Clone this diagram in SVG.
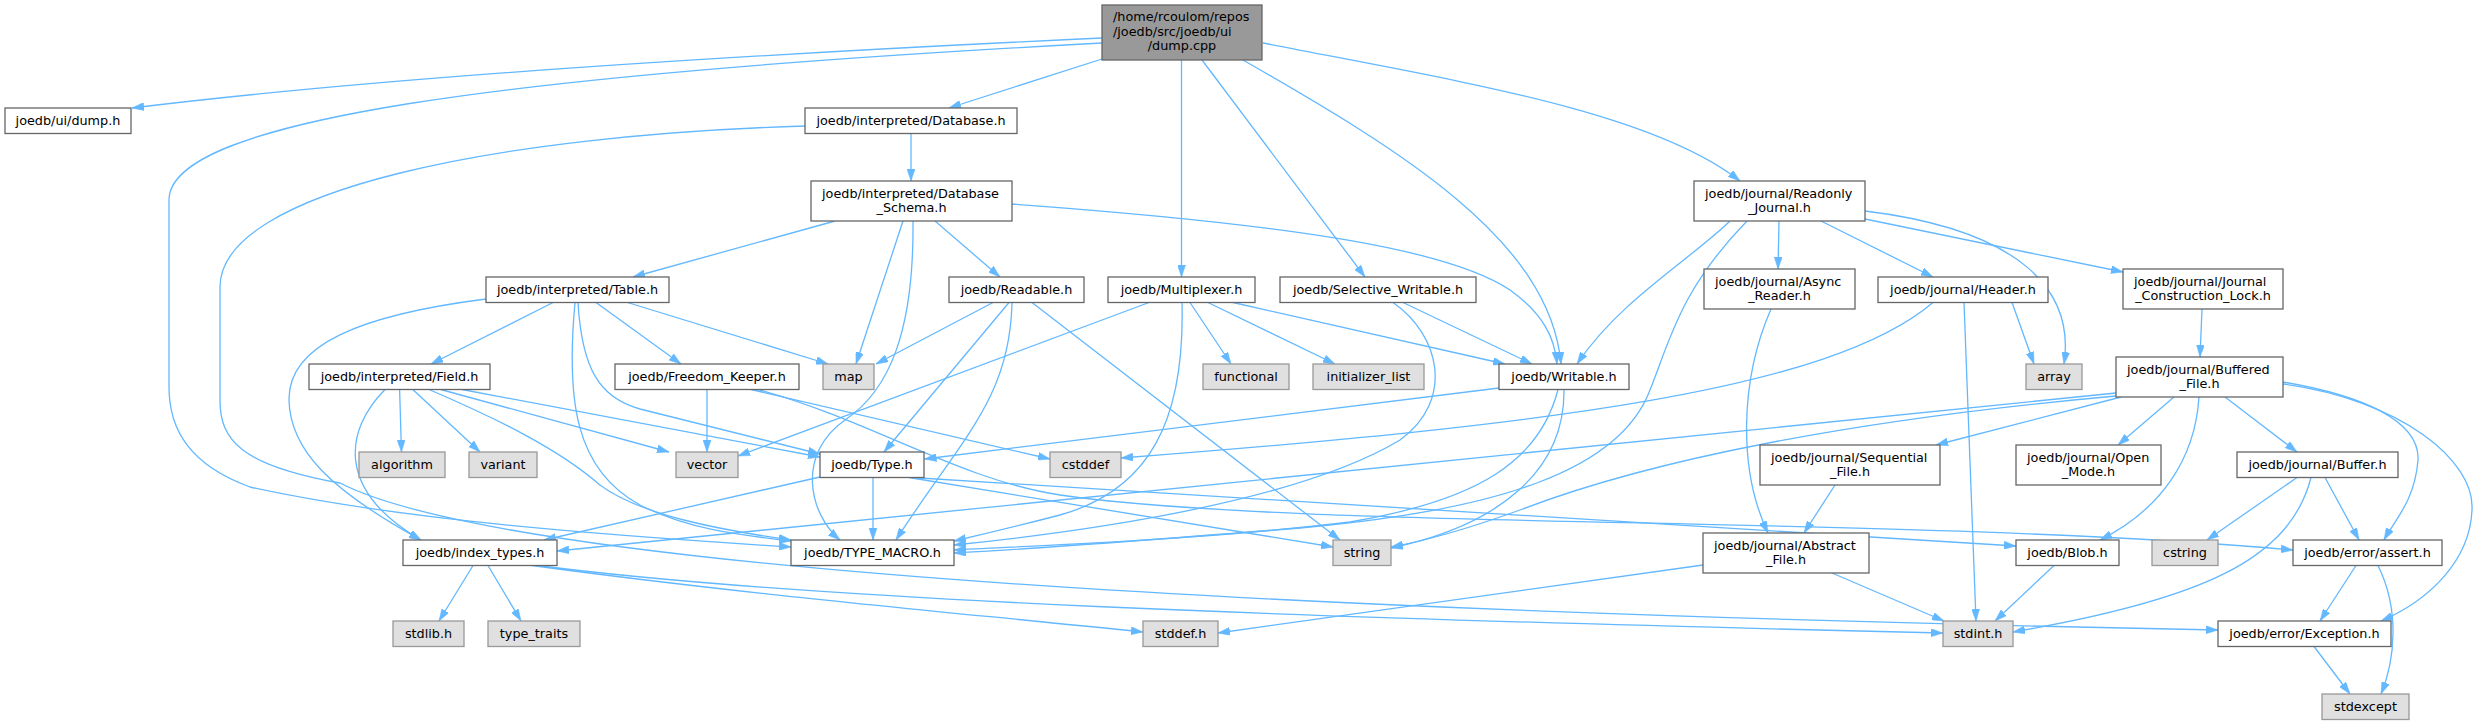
<svg xmlns="http://www.w3.org/2000/svg" width="2478" height="725" viewBox="0 0 2478 725">
<style>
.n{fill:#ffffff;stroke:#666666;stroke-width:1.3}
.x{fill:#e0e0e0;stroke:#999999;stroke-width:1.3}
.r{fill:#999999;stroke:#666666;stroke-width:1.3}
text{font-family:"DejaVu Sans","Liberation Sans",sans-serif;font-size:12.8px;fill:#000000}
.m{text-anchor:middle}
.s{text-anchor:start}
.e{fill:none;stroke:#63b8ff;stroke-width:1.3;marker-end:url(#a)}
</style>
<defs>
<marker id="a" viewBox="0 0 10 10" refX="10" refY="5" markerUnits="userSpaceOnUse" markerWidth="12" markerHeight="8" orient="auto" preserveAspectRatio="none">
<path d="M0,0 L10,5 L0,10 z" fill="#63b8ff" stroke="#63b8ff" stroke-width="0.5"/>
</marker>
</defs>
<rect width="2478" height="725" fill="#ffffff"/>
<g id="edges">
<path class="e" d="M1102,38 C800,52 400,75 132,108"/>
<path class="e" d="M1102,59 L949,108"/>
<path class="e" d="M1102,43 C500,75 169,120 169,200 L169,387 C169,430 190,465 250,487 C400,520 600,535 791,547"/>
<path class="e" d="M1181.5,60 L1181.5,277"/>
<path class="e" d="M1202,60 L1365,277"/>
<path class="e" d="M1243,60 C1400,150 1550,240 1561,364"/>
<path class="e" d="M1263,43 C1450,80 1650,110 1740,181"/>
<path class="e" d="M911,133.5 L911,181"/>
<path class="e" d="M805,126 C500,135 220,190 220,287 L220,400 C220,440 240,465 340,483 C500,565 1200,610 2218,630"/>
<path class="e" d="M835,221 L633,277"/>
<path class="e" d="M903,221 L856,364"/>
<path class="e" d="M913,221 C914,330 890,390 845,420 C795,455 810,515 840,540"/>
<path class="e" d="M935,221 L1000,277"/>
<path class="e" d="M1012,204 C1300,225 1450,250 1510,290 C1545,315 1555,340 1557,364"/>
<path class="e" d="M486,299 C360,315 288,345 289,400 C290,450 330,490 421,540"/>
<path class="e" d="M553,302.5 L431,364"/>
<path class="e" d="M575,302.5 C566,400 575,470 640,505 C690,530 740,535 791,541"/>
<path class="e" d="M578,302.5 C582,370 600,398 640,409 L820,454"/>
<path class="e" d="M596,302.5 L681,364"/>
<path class="e" d="M627.5,302.5 L828,364"/>
<path class="e" d="M385,389.5 C345,430 335,490 421,540"/>
<path class="e" d="M399.6,389.5 L401.5,452"/>
<path class="e" d="M412.8,389.5 L480,452"/>
<path class="e" d="M429,389.5 C500,420 560,450 600,485 C640,515 720,530 791,540"/>
<path class="e" d="M440.7,389.5 L669,452"/>
<path class="e" d="M462,389.5 L820,457"/>
<path class="e" d="M707,389.5 L707,452"/>
<path class="e" d="M751,389.5 L1050,459"/>
<path class="e" d="M758,389.5 C870,420 960,480 1060,495 C1300,530 1900,515 2293,550"/>
<path class="e" d="M993,302.5 L876,364"/>
<path class="e" d="M1009,302.5 L884,452"/>
<path class="e" d="M1012,302.5 C1010,400 960,440 896,540"/>
<path class="e" d="M1032,302.5 L1340,540"/>
<path class="e" d="M1149,302.5 L738,456"/>
<path class="e" d="M1182,302.5 C1185,420 1150,490 1060,515 C1010,528 980,535 954,541"/>
<path class="e" d="M1190,302.5 L1231,364"/>
<path class="e" d="M1208,302.5 L1335,364"/>
<path class="e" d="M1233,302.5 L1505,364"/>
<path class="e" d="M1393,302.5 C1440,335 1455,400 1400,440 C1300,500 1100,530 954,545"/>
<path class="e" d="M1403,302.5 L1532,364"/>
<path class="e" d="M1499,388 L924.5,459"/>
<path class="e" d="M1558,389.5 C1540,460 1480,500 1350,522 C1200,540 1050,545 954,550"/>
<path class="e" d="M1564,389.5 C1565,470 1500,525 1391,548"/>
<path class="e" d="M1730,221 C1690,260 1620,300 1577,364"/>
<path class="e" d="M1747,221 C1680,290 1670,340 1650,390 C1620,470 1500,510 1300,528 C1150,540 1050,548 954,553"/>
<path class="e" d="M1779,221 L1778,269"/>
<path class="e" d="M1821,221 L1933,277"/>
<path class="e" d="M1865,211 C2020,230 2075,290 2064,364"/>
<path class="e" d="M1865,219 L2123,272"/>
<path class="e" d="M1771,309 C1740,380 1738,470 1768,533"/>
<path class="e" d="M1933,302.5 C1830,390 1550,425 1121,458"/>
<path class="e" d="M1964,302.5 L1976,621"/>
<path class="e" d="M2012,302.5 L2034,364"/>
<path class="e" d="M2202,309 L2200,357"/>
<path class="e" d="M2116,393 L557,551"/>
<path class="e" d="M2116,396 C1850,420 1650,460 1520,510 C1470,528 1430,540 1391,547"/>
<path class="e" d="M2121,397 L1936,445"/>
<path class="e" d="M2174,397 L2118,445"/>
<path class="e" d="M2199,397 C2195,460 2160,510 2100,540"/>
<path class="e" d="M2225,397 L2297,452"/>
<path class="e" d="M2283,382 C2360,395 2420,420 2418,460 C2415,500 2395,520 2384,540"/>
<path class="e" d="M2283,384 C2400,400 2475,460 2472,510 C2470,560 2430,600 2381,621"/>
<path class="e" d="M820,477 L544,540"/>
<path class="e" d="M873,477.5 L873,540"/>
<path class="e" d="M909,477.5 L1333,547"/>
<path class="e" d="M912,477.5 L2016,546"/>
<path class="e" d="M1835,485 L1804,533"/>
<path class="e" d="M2297,477.5 L2207,540"/>
<path class="e" d="M2311,477.5 C2290,560 2200,600 2013,632"/>
<path class="e" d="M2325,477.5 L2359,540"/>
<path class="e" d="M473,565.5 L439,621"/>
<path class="e" d="M488,565.5 L521,621"/>
<path class="e" d="M532,565.5 C750,595 950,612 1143,632"/>
<path class="e" d="M534,565 C800,600 1300,618 1943,633"/>
<path class="e" d="M1703,565 L1218,633"/>
<path class="e" d="M1832,573 L1944,621"/>
<path class="e" d="M2054,565.5 L1995,621"/>
<path class="e" d="M2356,565.5 L2320,621"/>
<path class="e" d="M2378,565.5 C2400,610 2395,660 2381,694"/>
<path class="e" d="M2314,646.5 L2350,694"/>
</g>
<g id="n_root"><rect class="r" x="1102" y="5" width="160" height="55"/><text class="s" x="1113" y="21">/home/rcoulom/repos</text><text class="s" x="1113" y="35.5">/joedb/src/joedb/ui</text><text class="m" x="1182" y="50">/dump.cpp</text></g>
<g id="n_dump_h"><rect class="n" x="5" y="108" width="126" height="25.5"/><text class="m" x="68" y="124.5">joedb/ui/dump.h</text></g>
<g id="n_database"><rect class="n" x="805" y="108" width="212" height="25.5"/><text class="m" x="911" y="124.5">joedb/interpreted/Database.h</text></g>
<g id="n_schema"><rect class="n" x="811" y="181" width="201" height="40"/><text class="s" x="822" y="197.5">joedb/interpreted/Database</text><text class="m" x="911.5" y="211.5">_Schema.h</text></g>
<g id="n_table"><rect class="n" x="486" y="277" width="183" height="25.5"/><text class="m" x="577.5" y="293.5">joedb/interpreted/Table.h</text></g>
<g id="n_readable"><rect class="n" x="949" y="277" width="135" height="25.5"/><text class="m" x="1016.5" y="293.5">joedb/Readable.h</text></g>
<g id="n_multiplexer"><rect class="n" x="1108" y="277" width="147" height="25.5"/><text class="m" x="1181.5" y="293.5">joedb/Multiplexer.h</text></g>
<g id="n_selective"><rect class="n" x="1280" y="277" width="196" height="25.5"/><text class="m" x="1378" y="293.5">joedb/Selective_Writable.h</text></g>
<g id="n_readonly"><rect class="n" x="1694" y="181" width="171" height="40"/><text class="s" x="1705" y="197.5">joedb/journal/Readonly</text><text class="m" x="1779.5" y="211.5">_Journal.h</text></g>
<g id="n_async"><rect class="n" x="1704" y="269" width="151" height="40"/><text class="s" x="1715" y="285.5">joedb/journal/Async</text><text class="m" x="1779.5" y="299.5">_Reader.h</text></g>
<g id="n_header"><rect class="n" x="1878" y="277" width="170" height="25.5"/><text class="m" x="1963" y="293.5">joedb/journal/Header.h</text></g>
<g id="n_jcl"><rect class="n" x="2123" y="269" width="160" height="40"/><text class="s" x="2134" y="285.5">joedb/journal/Journal</text><text class="m" x="2203" y="299.5">_Construction_Lock.h</text></g>
<g id="n_field"><rect class="n" x="309" y="364" width="181" height="25.5"/><text class="m" x="399.5" y="380.5">joedb/interpreted/Field.h</text></g>
<g id="n_freedom"><rect class="n" x="615" y="364" width="184" height="25.5"/><text class="m" x="707" y="380.5">joedb/Freedom_Keeper.h</text></g>
<g id="n_map"><rect class="x" x="823" y="364" width="51" height="25.5"/><text class="m" x="848.5" y="380.5">map</text></g>
<g id="n_functional"><rect class="x" x="1203" y="364" width="86" height="25.5"/><text class="m" x="1246" y="380.5">functional</text></g>
<g id="n_initlist"><rect class="x" x="1313" y="364" width="111" height="25.5"/><text class="m" x="1368.5" y="380.5">initializer_list</text></g>
<g id="n_writable"><rect class="n" x="1499" y="364" width="130" height="25.5"/><text class="m" x="1564" y="380.5">joedb/Writable.h</text></g>
<g id="n_array"><rect class="x" x="2026" y="364" width="56" height="25.5"/><text class="m" x="2054" y="380.5">array</text></g>
<g id="n_buffered"><rect class="n" x="2116" y="357" width="167" height="40"/><text class="s" x="2127" y="373.5">joedb/journal/Buffered</text><text class="m" x="2199.5" y="387.5">_File.h</text></g>
<g id="n_algorithm"><rect class="x" x="359" y="452" width="86" height="25.5"/><text class="m" x="402" y="468.5">algorithm</text></g>
<g id="n_variant"><rect class="x" x="469" y="452" width="68" height="25.5"/><text class="m" x="503" y="468.5">variant</text></g>
<g id="n_vector"><rect class="x" x="676" y="452" width="62" height="25.5"/><text class="m" x="707" y="468.5">vector</text></g>
<g id="n_type"><rect class="n" x="820" y="452" width="104" height="25.5"/><text class="m" x="872" y="468.5">joedb/Type.h</text></g>
<g id="n_cstddef"><rect class="x" x="1050" y="452" width="71" height="25.5"/><text class="m" x="1085.5" y="468.5">cstddef</text></g>
<g id="n_sequential"><rect class="n" x="1760" y="445" width="180" height="40"/><text class="s" x="1771" y="461.5">joedb/journal/Sequential</text><text class="m" x="1850" y="475.5">_File.h</text></g>
<g id="n_openmode"><rect class="n" x="2016" y="445" width="145" height="40"/><text class="s" x="2027" y="461.5">joedb/journal/Open</text><text class="m" x="2088.5" y="475.5">_Mode.h</text></g>
<g id="n_buffer"><rect class="n" x="2237" y="452" width="161" height="25.5"/><text class="m" x="2317.5" y="468.5">joedb/journal/Buffer.h</text></g>
<g id="n_index"><rect class="n" x="403" y="540" width="154" height="25.5"/><text class="m" x="480" y="556.5">joedb/index_types.h</text></g>
<g id="n_typemacro"><rect class="n" x="791" y="540" width="163" height="25.5"/><text class="m" x="872.5" y="556.5">joedb/TYPE_MACRO.h</text></g>
<g id="n_string"><rect class="x" x="1333" y="540" width="58" height="25.5"/><text class="m" x="1362" y="556.5">string</text></g>
<g id="n_abstract"><rect class="n" x="1703" y="533" width="166" height="40"/><text class="s" x="1714" y="549.5">joedb/journal/Abstract</text><text class="m" x="1786" y="563.5">_File.h</text></g>
<g id="n_blob"><rect class="n" x="2016" y="540" width="103" height="25.5"/><text class="m" x="2067.5" y="556.5">joedb/Blob.h</text></g>
<g id="n_cstring"><rect class="x" x="2152" y="540" width="66" height="25.5"/><text class="m" x="2185" y="556.5">cstring</text></g>
<g id="n_assert"><rect class="n" x="2293" y="540" width="149" height="25.5"/><text class="m" x="2367.5" y="556.5">joedb/error/assert.h</text></g>
<g id="n_stdlib"><rect class="x" x="393" y="621" width="71" height="25.5"/><text class="m" x="428.5" y="637.5">stdlib.h</text></g>
<g id="n_typetraits"><rect class="x" x="488" y="621" width="92" height="25.5"/><text class="m" x="534" y="637.5">type_traits</text></g>
<g id="n_stddef"><rect class="x" x="1143" y="621" width="75" height="25.5"/><text class="m" x="1180.5" y="637.5">stddef.h</text></g>
<g id="n_stdint"><rect class="x" x="1943" y="621" width="70" height="25.5"/><text class="m" x="1978" y="637.5">stdint.h</text></g>
<g id="n_exception"><rect class="n" x="2218" y="621" width="173" height="25.5"/><text class="m" x="2304.5" y="637.5">joedb/error/Exception.h</text></g>
<g id="n_stdexcept"><rect class="x" x="2322" y="694" width="87" height="25.5"/><text class="m" x="2365.5" y="710.5">stdexcept</text></g>
</svg>
